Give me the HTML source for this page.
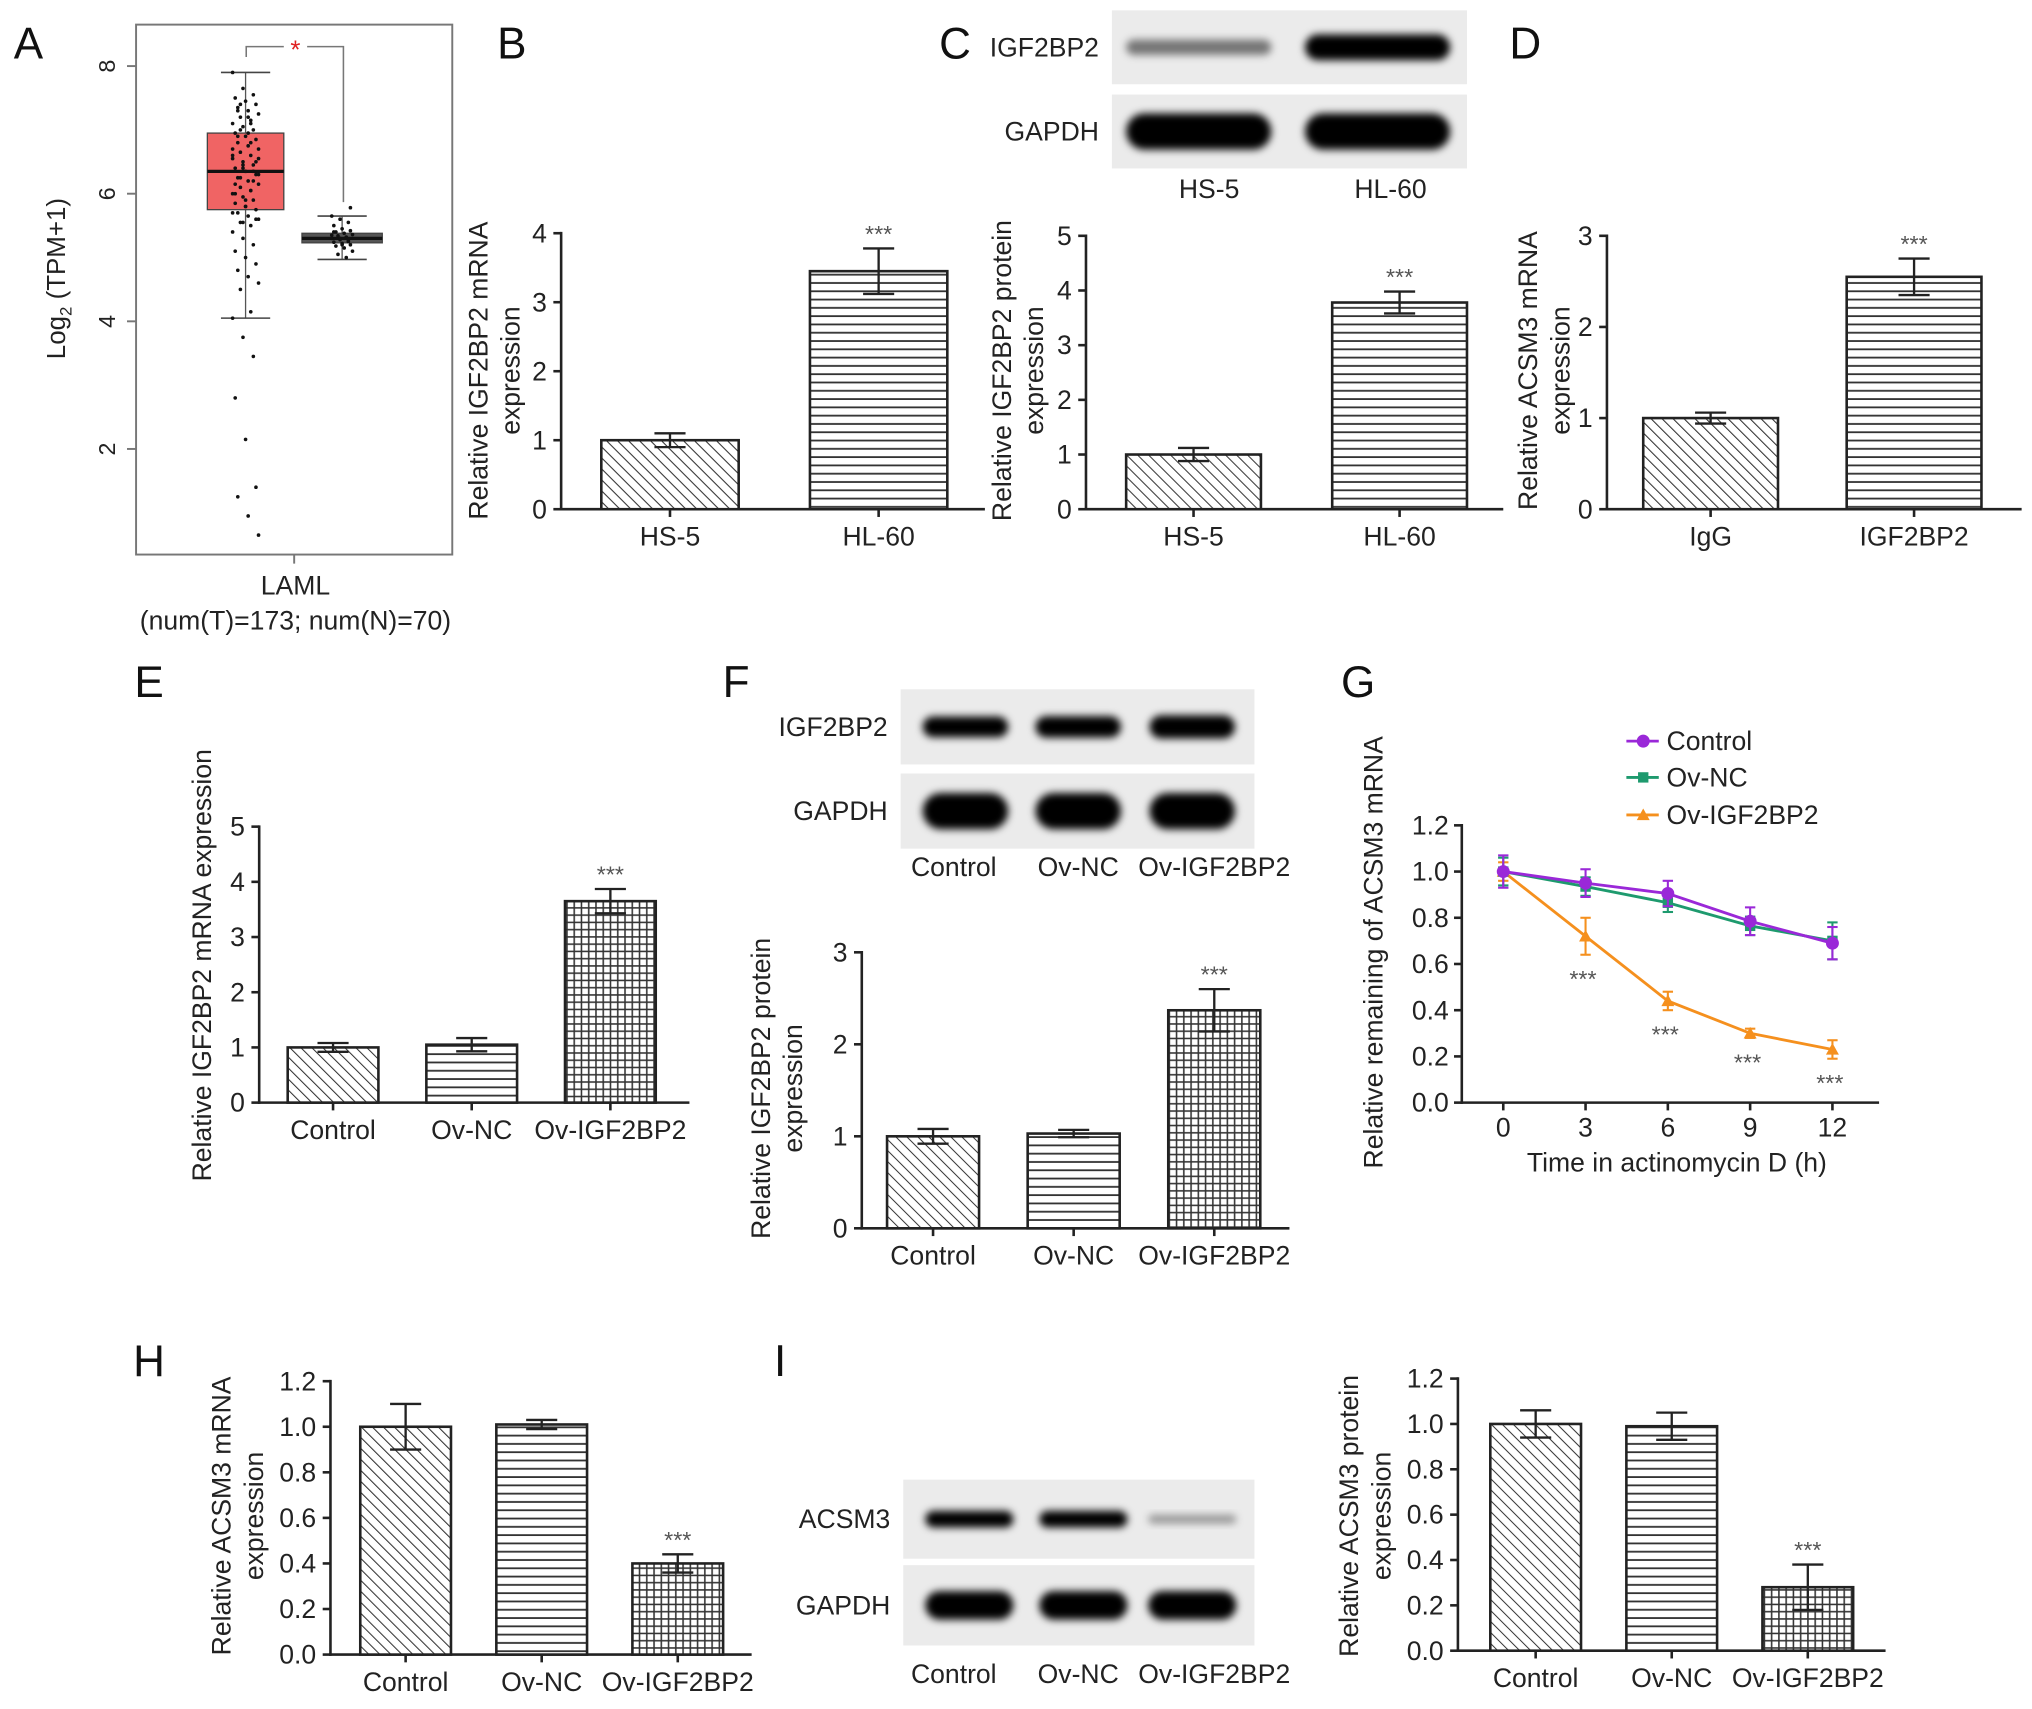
<!DOCTYPE html>
<html><head><meta charset="utf-8"><style>
html,body{margin:0;padding:0;background:#fff;}
svg{display:block;font-family:"Liberation Sans",Arial,sans-serif;}
</style></head><body>
<svg id="fig" xmlns="http://www.w3.org/2000/svg" width="2032" height="1709" viewBox="0 0 1568 1319" preserveAspectRatio="none">
<defs>
<pattern id="pDiag" patternUnits="userSpaceOnUse" width="6" height="6" patternTransform="rotate(-45)"><rect width="6" height="6" fill="#fff"/><line x1="0" y1="0" x2="0" y2="6" stroke="#333" stroke-width="1.6"/></pattern>
<pattern id="pHor" patternUnits="userSpaceOnUse" width="6" height="6.4"><rect width="6" height="6.4" fill="#fff"/><line x1="0" y1="0.8" x2="6" y2="0.8" stroke="#333" stroke-width="1.4"/></pattern>
<pattern id="pGrid" patternUnits="userSpaceOnUse" width="5.6" height="5.6"><rect width="5.6" height="5.6" fill="#fff"/><line x1="0" y1="0.7" x2="5.6" y2="0.7" stroke="#333" stroke-width="1.2"/><line x1="0.7" y1="0" x2="0.7" y2="5.6" stroke="#333" stroke-width="1.2"/></pattern>
<filter id="blur" x="-20%" y="-60%" width="140%" height="220%"><feGaussianBlur stdDeviation="3"/></filter>
</defs>
</svg>
<script>
// ---------- data ----------
const aTumor = [7.9,7.65,7.55,7.5,7.45,7.4,7.35,7.3,7.25,7.2,7.15,7.1,7.05,7.0,6.95,6.9,6.85,6.8,6.75,6.7,6.65,6.6,6.55,6.5,6.45,6.4,6.35,6.3,6.25,6.2,6.15,6.1,6.05,6.0,5.95,5.9,5.85,5.8,5.75,5.7,5.65,5.6,5.55,5.5,5.4,5.3,5.2,5.1,5.0,4.9,4.8,4.7,4.6,4.5,4.15,4.05,3.75,3.45,2.8,2.15,1.4,1.25,0.95,0.65,7.0,6.8,6.6,6.4,6.2,6.0,5.8,6.5,6.9,7.2,6.3,7.4,7.1,6.7,6.45,6.35,6.15,5.9,5.6,7.3,6.95,6.55,6.25,6.05,5.7,5.55];
const aNormal = [5.65,5.6,5.55,5.5,5.45,5.42,5.4,5.38,5.36,5.34,5.32,5.3,5.28,5.26,5.24,5.22,5.2,5.18,5.15,5.1,5.05,5.0,5.35,5.3,5.25,5.4,5.2,5.78];
const aTumorBox = {q1:5.75, med:6.35, q3:6.95, lo:4.05, hi:7.9};
const aNormalBox = {q1:5.23, med:5.3, q3:5.38, lo:4.97, hi:5.65};

const bCats = ["HS-5","HL-60"]; const bVals = [1.0,3.45]; const bErrs = [0.1,0.33];
const cCats = ["HS-5","HL-60"]; const cVals = [1.0,3.78]; const cErrs = [0.12,0.2];
const dCats = ["IgG","IGF2BP2"]; const dVals = [1.0,2.55]; const dErrs = [0.06,0.2];
const eCats = ["Control","Ov-NC","Ov-IGF2BP2"]; const eVals = [1.0,1.05,3.65]; const eErrs = [0.08,0.12,0.22];
const fCats = ["Control","Ov-NC","Ov-IGF2BP2"]; const fVals = [1.0,1.03,2.37]; const fErrs = [0.08,0.04,0.23];
const hCats = ["Control","Ov-NC","Ov-IGF2BP2"]; const hVals = [1.0,1.01,0.40]; const hErrs = [0.1,0.02,0.04];
const iCats = ["Control","Ov-NC","Ov-IGF2BP2"]; const iVals = [1.0,0.99,0.28]; const iErrs = [0.06,0.06,0.1];
const gTimes = [0,3,6,9,12];
const gControl = [1.0,0.95,0.905,0.785,0.69]; const gControlErr = [0.07,0.06,0.055,0.06,0.07];
const gOvNC = [1.0,0.935,0.865,0.765,0.70]; const gOvNCErr = [0.06,0.04,0.04,0.04,0.08];
const gOvIGF = [1.0,0.72,0.44,0.30,0.23]; const gOvIGFErr = [0.04,0.08,0.04,0.02,0.04];
const ticks5 = [0,1,2,3,4,5]; const ticks4 = [0,1,2,3,4]; const ticks3 = [0,1,2,3];
const ticks12 = [0,0.2,0.4,0.6,0.8,1.0,1.2]; const ticks12Lbl = ["0.0","0.2","0.4","0.6","0.8","1.0","1.2"];
const aTicks = [2,4,6,8];

// ---------- helpers ----------
const svg = document.getElementById('fig');
const NS = 'http://www.w3.org/2000/svg';
const FS = 20.5;
function mk(tag, attrs, name, parent){
  const el = document.createElementNS(NS, tag);
  for (const k in attrs) el.setAttribute(k, attrs[k]);
  
  
  (parent||svg).appendChild(el);
  return el;
}
function txt(x,y,s,name,opt){
  opt = opt||{};
  const a = {x:x,y:y,'font-size':opt.size||FS,fill:opt.fill||'#222','text-anchor':opt.anchor||'middle'};
  if(opt.rot!==undefined) a.transform='rotate('+opt.rot+' '+x+' '+y+')';
  if(opt.base) a['dominant-baseline']=opt.base;
  const t = mk('text',a,name,opt.parent);
  t.textContent = s;
  return t;
}
function line(x1,y1,x2,y2,name,w,c,p){ return mk('line',{x1:x1,y1:y1,x2:x2,y2:y2,stroke:c||'#222','stroke-width':w||2},name,p); }

function barChart(o){
  const g = mk('g',{},o.name);
  const ys = v => o.y0 - (v/o.ymax)*(o.y0-o.y1);
  const xs = i => o.c0 + i*o.step;
  line(o.ax, o.y1-1, o.ax, o.y0+1, 'y-axis-line', 2, '#222', g);
  line(o.ax-1, o.y0, o.xEnd, o.y0, 'x-axis-line', 2, '#222', g);
  o.ticks.forEach((t,i)=>{
    line(o.ax-6, ys(t), o.ax, ys(t), 'y-tick', 2, '#222', g);
    txt(o.ax-11, ys(t)+7, o.tickLbl? o.tickLbl[i] : String(t), 'y-tick-label', {anchor:'end',parent:g});
  });
  o.cats.forEach((c,i)=>{
    const x = xs(i), v=o.vals[i], e=o.errs[i];
    mk('rect',{x:x-o.bw/2,y:ys(v),width:o.bw,height:o.y0-ys(v),fill:'url(#'+o.pats[i]+')',stroke:'#222','stroke-width':2},'bar-'+c.toLowerCase(),g);
    line(x, ys(v+e), x, ys(v-e), 'error-bar', 1.8, '#222', g);
    line(x-12, ys(v+e), x+12, ys(v+e), 'error-cap', 1.8, '#222', g);
    line(x-12, ys(v-e), x+12, ys(v-e), 'error-cap', 1.8, '#222', g);
    line(x, o.y0, x, o.y0+6, 'x-tick', 2, '#222', g);
    txt(x, o.y0+28, c, 'x-tick-label', {parent:g});
    if(o.stars && o.stars[i]) txt(x, ys(v+e)-5, '***', 'significance-stars', {size:18,fill:'#555',parent:g});
  });
  o.ylab.forEach((s,j)=>{
    const lx = o.ylx + j*25;
    txt(lx, o.yly, s, 'y-axis-title', {rot:-90,parent:g});
  });
}
function blot(o){
  const g = mk('g',{},o.name);
  o.rows.forEach((r,ri)=>{
    mk('rect',{x:o.x,y:r.y,width:o.w,height:r.h,fill:'#ebebeb'},'blot-membrane',g);
    txt(o.x-10, r.y+r.h/2+7, r.label, 'blot-row-label', {anchor:'end',parent:g});
    o.lanes.forEach((lx,li)=>{
      const it = r.ints[li];
      const bh = r.bh*(0.45+0.55*it);
      mk('rect',{x:lx-o.bw/2,y:r.y+r.h/2-bh/2,width:o.bw,height:bh,rx:bh/2,ry:bh/2,fill:'#000','fill-opacity':Math.min(1,0.25+it),filter:'url(#blur)'},'blot-band',g);
    });
  });
  o.laneLbl.forEach((s,li)=> txt(o.lblX[li], o.ly, s, 'lane-label', {parent:g}));
}

// ---------- panel letters ----------
[['A',22,45],['B',395,45],['C',737,45],['D',1177,45],['E',115,538],['F',568,538],['G',1048,538],['H',115,1062],['I',602,1062]].forEach(l=>txt(l[1],l[2],l[0],'panel-letter-'+l[0].toLowerCase(),{size:34,fill:'#111'}));

// ---------- Panel A ----------
(function(){
  const g = mk('g',{},'panel-a-boxplot');
  const ys = v => 51 + (8-v)*49.25;
  mk('rect',{x:105,y:19,width:244,height:409,fill:'none',stroke:'#777','stroke-width':1.5},'plot-frame',g);
  aTicks.forEach(t=>{ line(98,ys(t),105,ys(t),'y-tick',1.5,'#777',g); txt(84,ys(t),String(t),'y-tick-label',{rot:-90,size:18,base:'middle',parent:g}); });
  const yl = txt(50,215,'','y-axis-title',{rot:-90,size:20,parent:g});
  yl.innerHTML = 'Log<tspan font-size="13" dy="5">2</tspan><tspan dy="-5"> (TPM+1)</tspan>';
  line(227,428,227,435,'x-tick',1.5,'#777',g);
  txt(228,459,'LAML','x-tick-label',{parent:g});
  txt(228,486,'(num(T)=173; num(N)=70)','x-tick-sublabel',{parent:g});
  function box(b,x1,x2,fill,pts,name,jw){
    const cx=(x1+x2)/2;
    line(cx,ys(b.hi),cx,ys(b.lo),'whisker',1,'#555',g);
    line(cx-19,ys(b.hi),cx+19,ys(b.hi),'whisker-cap',1.2,'#444',g);
    line(cx-19,ys(b.lo),cx+19,ys(b.lo),'whisker-cap',1.2,'#444',g);
    mk('rect',{x:x1,y:ys(b.q3),width:x2-x1,height:ys(b.q1)-ys(b.q3),fill:fill,stroke:'#444','stroke-width':1},name,g);
    line(x1,ys(b.med),x2,ys(b.med),'median-line',2.5,'#111',g);
    pts.forEach((v,i)=>{ const jx = ((i*37)%11-5)/5*jw; mk('circle',{cx:cx+jx,cy:ys(v),r:1.4,fill:'#111'},'data-point',g); });
  }
  box(aTumorBox,160,219,'#f06464',aTumor,'tumor-box',10);
  box(aNormalBox,233,295,'#555',aNormal,'normal-box',8);
  mk('polyline',{points:'190,44 190,36 265,36 265,156',fill:'none',stroke:'#777','stroke-width':1.2},'significance-bracket',g);
  mk('rect',{x:219,y:28,width:18,height:14,fill:'#fff'},'bracket-gap',g);
  txt(228,45,'*','significance-star',{size:20,fill:'#e02020',parent:g});
})();

// ---------- Bar panels ----------
barChart({name:'panel-b-chart',ax:433,xEnd:760,y0:393,y1:180,ymax:4,ticks:ticks4,cats:bCats,vals:bVals,errs:bErrs,c0:517,step:161,bw:106,pats:['pDiag','pHor'],stars:[0,1],ylab:['Relative IGF2BP2 mRNA','expression'],ylx:376,yly:286});
barChart({name:'panel-c-chart',ax:838,xEnd:1160,y0:393,y1:182,ymax:5,ticks:ticks5,cats:cCats,vals:cVals,errs:cErrs,c0:921,step:159,bw:104,pats:['pDiag','pHor'],stars:[0,1],ylab:['Relative IGF2BP2 protein','expression'],ylx:780,yly:286});
barChart({name:'panel-d-chart',ax:1240,xEnd:1560,y0:393,y1:182,ymax:3,ticks:ticks3,cats:dCats,vals:dVals,errs:dErrs,c0:1320,step:157,bw:104,pats:['pDiag','pHor'],stars:[0,1],ylab:['Relative ACSM3 mRNA','expression'],ylx:1186,yly:286});
barChart({name:'panel-e-chart',ax:200,xEnd:532,y0:851,y1:638,ymax:5,ticks:ticks5,cats:eCats,vals:eVals,errs:eErrs,c0:257,step:107,bw:70,pats:['pDiag','pHor','pGrid'],stars:[0,0,1],ylab:['Relative IGF2BP2 mRNA expression'],ylx:163,yly:745});
barChart({name:'panel-f-chart',ax:665,xEnd:995,y0:948,y1:735,ymax:3,ticks:ticks3,cats:fCats,vals:fVals,errs:fErrs,c0:720,step:108.5,bw:71,pats:['pDiag','pHor','pGrid'],stars:[0,0,1],ylab:['Relative IGF2BP2 protein','expression'],ylx:594,yly:840});
barChart({name:'panel-h-chart',ax:255,xEnd:580,y0:1277,y1:1066,ymax:1.2,ticks:ticks12,tickLbl:ticks12Lbl,cats:hCats,vals:hVals,errs:hErrs,c0:313,step:105,bw:70,pats:['pDiag','pHor','pGrid'],stars:[0,0,1],ylab:['Relative ACSM3 mRNA','expression'],ylx:178,yly:1170});
barChart({name:'panel-i-chart',ax:1125,xEnd:1455,y0:1274,y1:1064,ymax:1.2,ticks:ticks12,tickLbl:ticks12Lbl,cats:iCats,vals:iVals,errs:iErrs,c0:1185,step:105,bw:70,pats:['pDiag','pHor','pGrid'],stars:[0,0,1],ylab:['Relative ACSM3 protein','expression'],ylx:1048,yly:1170});

// ---------- Blots ----------
blot({name:'panel-c-blot',x:858,w:274,lanes:[925,1063],lblX:[933,1073],bw:112,ly:153,laneLbl:['HS-5','HL-60'],rows:[{y:8,h:57,bh:20,label:'IGF2BP2',ints:[0.25,1]},{y:73,h:57,bh:28,label:'GAPDH',ints:[1,1]}]});
blot({name:'panel-f-blot',x:695,w:273,lanes:[745,832,920],lblX:[736,832,937],bw:66,ly:676,laneLbl:['Control','Ov-NC','Ov-IGF2BP2'],rows:[{y:532,h:58,bh:18,label:'IGF2BP2',ints:[0.8,0.85,1]},{y:597,h:58,bh:28,label:'GAPDH',ints:[1,1,1]}]});
blot({name:'panel-i-blot',x:697,w:271,lanes:[748,836,920],lblX:[736,832,937],bw:68,ly:1299,laneLbl:['Control','Ov-NC','Ov-IGF2BP2'],rows:[{y:1142,h:61,bh:14,label:'ACSM3',ints:[0.85,0.85,0.1]},{y:1208,h:62,bh:22,label:'GAPDH',ints:[1,1,1]}]});

// ---------- Panel G line chart ----------
(function(){
  const g = mk('g',{},'panel-g-linechart');
  const ax=1128, y0=851, y1=637, x0=1160, x12=1414;
  const ys = v => y0 - v/1.2*(y0-y1);
  const xs = t => x0 + t/12*(x12-x0);
  line(ax,y1-1,ax,y0+1,'y-axis-line',2,'#222',g);
  line(ax-1,y0,1450,y0,'x-axis-line',2,'#222',g);
  ticks12.forEach((t,i)=>{ line(ax-6,ys(t),ax,ys(t),'y-tick',2,'#222',g); txt(ax-10,ys(t)+7,ticks12Lbl[i],'y-tick-label',{anchor:'end',parent:g}); });
  gTimes.forEach(t=>{ line(xs(t),y0,xs(t),y0+6,'x-tick',2,'#222',g); txt(xs(t),y0+26,String(t),'x-tick-label',{parent:g}); });
  txt(1294,904,'Time in actinomycin D (h)','x-axis-title',{parent:g});
  txt(1067,735,'Relative remaining of ACSM3 mRNA','y-axis-title',{rot:-90,parent:g});
  const series = [
    {n:'ov-igf2bp2',v:gOvIGF,e:gOvIGFErr,c:'#f5901e',m:'tri'},
    {n:'ov-nc',v:gOvNC,e:gOvNCErr,c:'#1e9a6e',m:'sq'},
    {n:'control',v:gControl,e:gControlErr,c:'#9a28d8',m:'circ'}];
  series.forEach(s=>{
    mk('polyline',{points:gTimes.map((t,i)=>xs(t)+','+ys(s.v[i])).join(' '),fill:'none',stroke:s.c,'stroke-width':2.2},'line-'+s.n,g);
    gTimes.forEach((t,i)=>{
      const x=xs(t), y=ys(s.v[i]);
      line(x,ys(s.v[i]+s.e[i]),x,ys(s.v[i]-s.e[i]),'error-bar',1.6,s.c,g);
      line(x-4,ys(s.v[i]+s.e[i]),x+4,ys(s.v[i]+s.e[i]),'error-cap',1.6,s.c,g);
      line(x-4,ys(s.v[i]-s.e[i]),x+4,ys(s.v[i]-s.e[i]),'error-cap',1.6,s.c,g);
      if(s.m==='circ') mk('circle',{cx:x,cy:y,r:5,fill:s.c},'point-'+s.n,g);
      else if(s.m==='sq') mk('rect',{x:x-4,y:y-4,width:8,height:8,fill:s.c},'point-'+s.n,g);
      else mk('polygon',{points:(x)+','+(y-5)+' '+(x-5)+','+(y+4)+' '+(x+5)+','+(y+4),fill:s.c},'point-'+s.n,g);
    });
  });
  gTimes.forEach((t,i)=>{ if(i>0) txt(xs(t)-2,ys(gOvIGF[i]-gOvIGFErr[i])+25,'***','significance-stars',{size:18,fill:'#555',parent:g}); });
  const leg=[['Control','#9a28d8','circ',572],['Ov-NC','#1e9a6e','sq',600],['Ov-IGF2BP2','#f5901e','tri',629]];
  leg.forEach(l=>{
    const lg = mk('g',{},'legend-entry',g);
    line(1255,l[3],1280,l[3],'legend-line',2.2,l[1],lg);
    if(l[2]==='circ') mk('circle',{cx:1268,cy:l[3],r:5,fill:l[1]},'legend-marker',lg);
    else if(l[2]==='sq') mk('rect',{x:1264,y:l[3]-4,width:8,height:8,fill:l[1]},'legend-marker',lg);
    else mk('polygon',{points:'1268,'+(l[3]-5)+' 1263,'+(l[3]+4)+' 1273,'+(l[3]+4),fill:l[1]},'legend-marker',lg);
    txt(1286,l[3]+7,l[0],'legend-label',{anchor:'start',parent:lg});
  });
})();
</script>
</body></html>
